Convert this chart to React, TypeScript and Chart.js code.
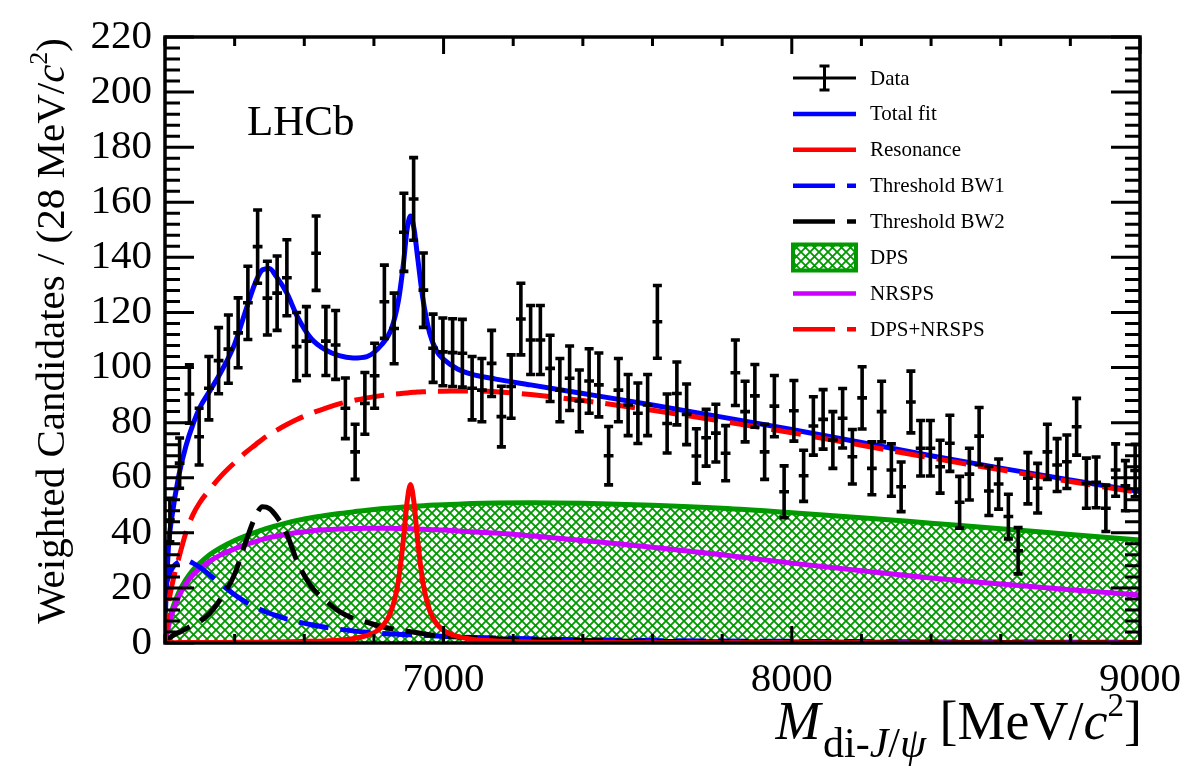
import React, { useEffect, useRef } from "react";
import { Chart, registerables } from "chart.js";

Chart.register(...registerables);

// ---------------- data ----------------
const binCenters = [
  6214, 6242, 6270, 6298, 6326, 6354, 6382, 6410, 6438, 6466,
  6494, 6522, 6550, 6578, 6606, 6634, 6662, 6690, 6718, 6746,
  6774, 6802, 6830, 6858, 6886, 6914, 6942, 6970, 6998, 7026,
  7054, 7082, 7110, 7138, 7166, 7194, 7222, 7250, 7278, 7306,
  7334, 7362, 7390, 7418, 7446, 7474, 7502, 7530, 7558, 7586,
  7614, 7642, 7670, 7698, 7726, 7754, 7782, 7810, 7838, 7866,
  7894, 7922, 7950, 7978, 8006, 8034, 8062, 8090, 8118, 8146,
  8174, 8202, 8230, 8258, 8286, 8314, 8342, 8370, 8398, 8426,
  8454, 8482, 8510, 8538, 8566, 8594, 8622, 8650, 8678, 8706,
  8734, 8762, 8790, 8818, 8846, 8874, 8902, 8930, 8958, 8986,
];
const binHalfWidth = 14;

const dataValues = [
  44.6, 65.3, 90.4, 74.9, 92.5, 102.5, 106.7, 112.6, 123.5, 143.9,
  125.2, 127.0, 132.6, 107.6, 109.6, 141.5, 109.6, 108.2, 85.2, 69.4,
  87.0, 97.0, 123.9, 114.2, 149.1, 161.2, 128.1, 107.0, 105.7, 105.4,
  105.2, 92.5, 91.8, 101.5, 82.2, 93.1, 117.6, 110.0, 110.0, 99.7,
  91.8, 96.1, 87.9, 95.1, 93.7, 68.0, 91.8, 86.4, 83.4, 86.4,
  116.6, 79.7, 90.6, 83.0, 67.9, 74.5, 76.2, 68.9, 98.1, 84.0,
  89.7, 69.4, 86.0, 54.9, 84.3, 60.7, 78.8, 81.2, 73.7, 81.6,
  67.6, 89.0, 63.4, 84.0, 62.8, 56.7, 87.5, 70.7, 70.7, 64.0,
  72.5, 51.1, 61.3, 75.1, 55.2, 57.7, 45.9, 33.5, 59.8, 56.2,
  69.4, 64.6, 65.8, 78.5, 58.0, 58.3, 48.9, 62.8, 57.1, 62.6,
];

const dataErrors = [
  7.9, 9.1, 10.6, 10.3, 11.5, 12.0, 12.4, 12.7, 13.3, 13.3,
  13.4, 13.5, 13.8, 12.4, 12.5, 13.5, 12.5, 12.5, 11.0, 10.0,
  11.2, 11.8, 13.3, 12.8, 14.2, 15.0, 13.5, 12.4, 12.3, 12.3,
  12.3, 11.5, 11.5, 12.0, 11.0, 11.5, 13.0, 12.5, 12.5, 12.0,
  11.5, 11.7, 11.2, 11.7, 11.6, 10.6, 11.5, 11.1, 11.0, 11.1,
  13.2, 10.7, 11.4, 11.0, 9.9, 10.3, 10.5, 10.0, 11.9, 11.0,
  11.4, 10.0, 11.1, 9.4, 11.0, 9.3, 10.6, 10.8, 10.3, 10.8,
  9.9, 11.3, 9.6, 11.0, 9.5, 9.0, 11.2, 10.1, 10.1, 9.6,
  10.2, 9.4, 9.4, 10.4, 8.9, 9.1, 8.1, 8.4, 9.3, 9.0,
  10.0, 9.6, 9.7, 10.3, 9.1, 9.2, 8.4, 9.5, 9.1, 9.5,
];

const fitMass = [
  6200, 6210, 6220, 6240, 6260, 6280, 6300, 6330, 6360, 6400,
  6430, 6460, 6480, 6500, 6520, 6550, 6580, 6620, 6660, 6700,
  6740, 6780, 6820, 6850, 6870, 6885, 6895, 6905, 6915, 6925,
  6940, 6960, 6980, 7000, 7040, 7080, 7150, 7250, 7400, 7600,
  7800, 8000, 8200, 8400, 8600, 8800, 9000,
];

const totalFit = [
  8, 35, 46, 61, 71.5, 79.3, 85.5, 91.8, 98.2, 108.5,
  120, 131, 135.5, 136, 133, 127, 118.5, 110.5, 106.5, 104.3,
  103.5, 104, 108, 114, 124, 138, 150, 155, 150.5, 140.5,
  125.5, 112.5, 106, 103, 99.5, 97.6, 95.8, 93.7, 90.6, 86.4,
  82, 77.5, 72.8, 68, 63.5, 59.2, 55,
];

const resonance = [
  0.1, 0.1, 0.1, 0.15, 0.15, 0.15, 0.2, 0.2, 0.2, 0.25,
  0.25, 0.3, 0.3, 0.35, 0.4, 0.45, 0.5, 0.6, 0.75, 1.0,
  1.6, 2.75, 5.6, 11.8, 22.4, 38, 51, 57.5, 51, 38,
  22.4, 11.8, 7.0, 4.6, 2.4, 1.4, 0.74, 0.38, 0.2, 0.1,
  0.08, 0.06, 0.05, 0.04, 0.03, 0.03, 0.02,
];

const thresholdBW1 = [
  20, 24, 27, 29.5, 30, 29, 27.5, 24.5, 21.5, 17.5,
  15, 13, 11.8, 10.8, 9.9, 8.7, 7.7, 6.6, 5.7, 5.0,
  4.4, 3.9, 3.5, 3.3, 3.2, 3.1, 3.0, 3.0, 2.9, 2.9,
  2.8, 2.7, 2.5, 2.4, 2.2, 2.0, 1.8, 1.5, 1.2, 0.9,
  0.7, 0.6, 0.5, 0.4, 0.35, 0.3, 0.25,
];

const thresholdBW2 = [
  0, 1.5, 2.5, 3.8, 5.2, 6.5, 7.8, 11, 16, 25,
  36, 46, 49.5, 48.8, 46, 39.5, 29.5, 20.5, 15.5, 11.5,
  9, 7.5, 6, 5.2, 4.8, 4.5, 4.3, 4.1, 3.9, 3.7,
  3.4, 3.0, 2.8, 2.6, 2.2, 1.9, 1.5, 1.2, 0.9, 0.6,
  0.45, 0.35, 0.3, 0.25, 0.2, 0.2, 0.15,
];

const dps = [
  0, 7, 12, 18.5, 23, 26.5, 29, 32.2, 34.6, 37.2,
  38.8, 40.2, 41.1, 41.9, 42.6, 43.6, 44.5, 45.5, 46.3, 47.0,
  47.6, 48.2, 48.7, 49.0, 49.2, 49.35, 49.45, 49.5, 49.6, 49.7,
  49.8, 50.0, 50.1, 50.2, 50.4, 50.6, 50.8, 50.9, 50.7, 50.0,
  48.9, 47.3, 45.5, 43.5, 41.5, 39.4, 37.4,
];

const nrsps = [
  0, 6, 10.5, 17, 21.5, 24.7, 27, 29.8, 32, 34.2,
  35.6, 36.8, 37.6, 38.3, 38.8, 39.5, 40.1, 40.7, 41.1, 41.4,
  41.6, 41.7, 41.7, 41.65, 41.6, 41.55, 41.5, 41.45, 41.4, 41.35,
  41.3, 41.2, 41.1, 41.0, 40.7, 40.4, 39.9, 38.9, 37.2, 34.8,
  32.0, 29.0, 26.2, 23.6, 21.4, 19.3, 17.4,
];

const dpsPlusNrsps = [
  0, 14, 21, 31, 40, 46.5, 51, 56, 60.5, 65.5,
  69, 72, 74, 75.7, 77.2, 79.3, 81.2, 83.4, 85.2, 86.8,
  88.0, 89.0, 89.8, 90.3, 90.5, 90.7, 90.8, 90.9, 91.0, 91.1,
  91.2, 91.3, 91.4, 91.4, 91.5, 91.5, 91.2, 90.2, 88.0, 84.5,
  80.5, 76.3, 71.8, 67.2, 62.9, 58.6, 54.6,
];

const xRange = [6200, 9000];
const yRange = [0, 220];
const xTickLabels = [7000, 8000, 9000];
const xMinorStep = 200;
const yMajorStep = 20;
const yMinorStep = 4;

const legendLabels = [
  "Data",
  "Total fit",
  "Resonance",
  "Threshold BW1",
  "Threshold BW2",
  "DPS",
  "NRSPS",
  "DPS+NRSPS",
];

// ---------------- styles ----------------
const BLUE = "#0000ff";
const RED = "#ff0000";
const GREEN = "#009900";
const MAGENTA = "#cc00ff";
const BLACK = "#000000";
const SERIF = '"Liberation Serif", "Times New Roman", serif';
const DASH = [30, 12];
const LINE_W = 5;

function makeHatch(): CanvasPattern | string {
  const s = 9;
  const c = document.createElement("canvas");
  c.width = s;
  c.height = s;
  const g = c.getContext("2d");
  if (!g) return GREEN;
  g.strokeStyle = GREEN;
  g.lineWidth = 1.8;
  g.beginPath();
  g.moveTo(-1, -1);
  g.lineTo(s + 1, s + 1);
  g.moveTo(-1, s + 1);
  g.lineTo(s + 1, -1);
  g.stroke();
  return g.createPattern(c, "repeat") || GREEN;
}

function pts(ys: number[]) {
  return fitMass.map((m, i) => ({ x: m, y: ys[i] }));
}

type Part = { t: string; f: string; dy?: number };

function drawParts(ctx: CanvasRenderingContext2D, parts: Part[], x: number, y: number) {
  let cx = x;
  for (const p of parts) {
    ctx.font = p.f;
    ctx.fillText(p.t, cx, y + (p.dy || 0));
    cx += ctx.measureText(p.t).width;
  }
}
function partsWidth(ctx: CanvasRenderingContext2D, parts: Part[]) {
  let w = 0;
  for (const p of parts) {
    ctx.font = p.f;
    w += ctx.measureText(p.t).width;
  }
  return w;
}

export default function App() {
  const ref = useRef<HTMLCanvasElement | null>(null);

  useEffect(() => {
    const canvas = ref.current;
    if (!canvas) return;
    const hatch = makeHatch();

    const decor = {
      id: "lhcbDecor",
      afterDatasetsDraw(chart: any) {
        const { ctx, chartArea, scales } = chart;
        const xs = scales.x;
        const ys = scales.y;
        ctx.save();
        ctx.beginPath();
        ctx.rect(chartArea.left, chartArea.top, chartArea.right - chartArea.left, chartArea.bottom - chartArea.top);
        ctx.clip();
        ctx.strokeStyle = BLACK;
        ctx.lineWidth = 3.6;
        ctx.lineCap = "butt";
        for (let i = 0; i < binCenters.length; i++) {
          const cx = xs.getPixelForValue(binCenters[i]);
          const x0 = xs.getPixelForValue(binCenters[i] - binHalfWidth);
          const x1 = xs.getPixelForValue(binCenters[i] + binHalfWidth);
          const yv = ys.getPixelForValue(dataValues[i]);
          const ylo = ys.getPixelForValue(dataValues[i] - dataErrors[i]);
          const yhi = ys.getPixelForValue(dataValues[i] + dataErrors[i]);
          ctx.beginPath();
          ctx.moveTo(x0, yv);
          ctx.lineTo(x1, yv);
          ctx.moveTo(cx, ylo);
          ctx.lineTo(cx, yhi);
          ctx.moveTo(cx - 4.5, ylo);
          ctx.lineTo(cx + 4.5, ylo);
          ctx.moveTo(cx - 4.5, yhi);
          ctx.lineTo(cx + 4.5, yhi);
          ctx.stroke();
        }
        ctx.restore();
      },
      afterDraw(chart: any) {
        const { ctx, chartArea, scales } = chart;
        const xs = scales.x;
        const ys = scales.y;
        const L = chartArea.left;
        const R = chartArea.right;
        const T = chartArea.top;
        const B = chartArea.bottom;
        ctx.save();
        // ticks
        ctx.strokeStyle = BLACK;
        ctx.lineWidth = 3;
        ctx.beginPath();
        for (let v = yRange[0]; v <= yRange[1]; v += yMinorStep) {
          const py = ys.getPixelForValue(v);
          const len = v % yMajorStep === 0 ? 29 : 15;
          ctx.moveTo(L, py);
          ctx.lineTo(L + len, py);
          ctx.moveTo(R, py);
          ctx.lineTo(R - len, py);
        }
        for (let m = xRange[0]; m <= xRange[1]; m += xMinorStep) {
          const px = xs.getPixelForValue(m);
          const len = m % 1000 === 0 ? 17 : 9;
          ctx.moveTo(px, B);
          ctx.lineTo(px, B - len);
          ctx.moveTo(px, T);
          ctx.lineTo(px, T + len);
        }
        ctx.stroke();
        // frame
        ctx.lineWidth = 3.5;
        ctx.strokeRect(L, T, R - L, B - T);

        ctx.fillStyle = BLACK;
        ctx.textBaseline = "alphabetic";
        ctx.textAlign = "left";

        // y title
        const yParts: Part[] = [
          { t: "Weighted Candidates / (28 MeV/", f: `41px ${SERIF}` },
          { t: "c", f: `italic 41px ${SERIF}` },
          { t: "2", f: `26px ${SERIF}`, dy: -17 },
          { t: ")", f: `41px ${SERIF}` },
        ];
        const yw = partsWidth(ctx, yParts);
        ctx.save();
        ctx.translate(64, T + 1 + yw);
        ctx.rotate(-Math.PI / 2);
        drawParts(ctx, yParts, 0, 0);
        ctx.restore();

        // x title
        const xParts: Part[] = [
          { t: "M", f: `italic 54px ${SERIF}` },
          { t: " ", f: `10px ${SERIF}` },
          { t: "di-", f: `42px ${SERIF}`, dy: 18 },
          { t: "J", f: `italic 42px ${SERIF}`, dy: 18 },
          { t: "/", f: `42px ${SERIF}`, dy: 18 },
          { t: "ψ", f: `italic 42px ${SERIF}`, dy: 18 },
          { t: " [MeV/", f: `54px ${SERIF}` },
          { t: "c", f: `italic 54px ${SERIF}` },
          { t: "2", f: `33px ${SERIF}`, dy: -23 },
          { t: "]", f: `54px ${SERIF}` },
        ];
        const xw = partsWidth(ctx, xParts);
        drawParts(ctx, xParts, R + 2 - xw, 739);

        // LHCb label
        ctx.font = `43px ${SERIF}`;
        ctx.fillText("LHCb", 247, 135);

        // legend
        const lx0 = 793;
        const lx1 = 856;
        const ly0 = 78;
        const ldy = 35.9;
        ctx.font = `21px ${SERIF}`;
        ctx.textBaseline = "middle";
        const styles = [
          { kind: "data" },
          { kind: "line", color: BLUE, dash: false },
          { kind: "line", color: RED, dash: false },
          { kind: "line", color: BLUE, dash: true },
          { kind: "line", color: BLACK, dash: true },
          { kind: "box" },
          { kind: "line", color: MAGENTA, dash: false },
          { kind: "line", color: RED, dash: true },
        ];
        styles.forEach((s: any, i: number) => {
          const cy = ly0 + i * ldy;
          if (s.kind === "data") {
            ctx.strokeStyle = BLACK;
            ctx.lineWidth = 3;
            const mx = (lx0 + lx1) / 2;
            ctx.beginPath();
            ctx.moveTo(lx0, cy);
            ctx.lineTo(lx1, cy);
            ctx.moveTo(mx, cy - 12);
            ctx.lineTo(mx, cy + 12);
            ctx.moveTo(mx - 5, cy - 12);
            ctx.lineTo(mx + 5, cy - 12);
            ctx.moveTo(mx - 5, cy + 12);
            ctx.lineTo(mx + 5, cy + 12);
            ctx.stroke();
          } else if (s.kind === "box") {
            ctx.fillStyle = hatch as any;
            ctx.fillRect(lx0, cy - 13, lx1 - lx0, 26);
            ctx.strokeStyle = GREEN;
            ctx.lineWidth = 4;
            ctx.strokeRect(lx0, cy - 13, lx1 - lx0, 26);
            ctx.fillStyle = BLACK;
          } else {
            ctx.strokeStyle = s.color;
            ctx.lineWidth = 4.5;
            ctx.beginPath();
            if (s.dash) {
              ctx.moveTo(lx0, cy);
              ctx.lineTo(lx0 + 42, cy);
              ctx.moveTo(lx1 - 9, cy);
              ctx.lineTo(lx1, cy);
            } else {
              ctx.moveTo(lx0, cy);
              ctx.lineTo(lx1, cy);
            }
            ctx.stroke();
          }
          ctx.fillStyle = BLACK;
          ctx.fillText(legendLabels[i], 870, cy + 1);
        });
        ctx.restore();
      },
    };

    const lineDs = (label: string, ys: number[], color: string, dash: number[] | undefined, order: number) => ({
      type: "line" as const,
      label,
      data: pts(ys),
      borderColor: color,
      borderWidth: LINE_W,
      borderDash: dash || [],
      pointRadius: 0,
      fill: false,
      cubicInterpolationMode: "monotone" as const,
      order,
    });

    const chart = new Chart(canvas, {
      type: "line",
      data: {
        datasets: [
          {
            type: "scatter" as const,
            label: legendLabels[0],
            data: binCenters.map((m, i) => ({ x: m, y: dataValues[i] })),
            pointRadius: 0,
            showLine: false,
            order: 0,
          } as any,
          lineDs(legendLabels[7], dpsPlusNrsps, RED, DASH, 1),
          lineDs(legendLabels[1], totalFit, BLUE, undefined, 2),
          lineDs(legendLabels[2], resonance, RED, undefined, 3),
          lineDs(legendLabels[4], thresholdBW2, BLACK, DASH, 4),
          lineDs(legendLabels[3], thresholdBW1, BLUE, DASH, 5),
          lineDs(legendLabels[6], nrsps, MAGENTA, undefined, 6),
          {
            ...lineDs(legendLabels[5], dps, GREEN, undefined, 7),
            fill: "origin",
            backgroundColor: hatch as any,
          },
        ] as any,
      },
      options: {
        animation: false,
        responsive: false,
        devicePixelRatio: 1,
        layout: { padding: { top: 37, right: 60, left: 0, bottom: 0 } },
        plugins: {
          legend: { display: false },
          tooltip: { enabled: false },
        },
        scales: {
          x: {
            type: "linear",
            min: xRange[0],
            max: xRange[1],
            grid: { display: false },
            border: { display: false },
            ticks: {
              color: BLACK,
              font: { family: SERIF, size: 41 },
              padding: 5,
              maxRotation: 0,
              autoSkip: false,
              callback: (v: any) => String(v),
            },
            afterBuildTicks: (s: any) => {
              s.ticks = xTickLabels.map((v) => ({ value: v }));
            },
            afterFit: (s: any) => {
              s.height = 123;
            },
          },
          y: {
            type: "linear",
            min: yRange[0],
            max: yRange[1],
            grid: { display: false },
            border: { display: false },
            ticks: {
              color: BLACK,
              font: { family: SERIF, size: 41 },
              padding: 5,
              stepSize: yMajorStep,
              autoSkip: false,
              callback: (v: any) => String(v),
            },
            afterFit: (s: any) => {
              s.width = 165;
            },
          },
        },
      } as any,
      plugins: [decor],
    });

    return () => chart.destroy();
  }, []);

  return (
    <div style={{ position: "fixed", left: 0, top: 0, width: 1200, height: 766, background: "#fff" }}>
      <canvas ref={ref} width={1200} height={766} style={{ display: "block", width: 1200, height: 766 }} />
    </div>
  );
}
